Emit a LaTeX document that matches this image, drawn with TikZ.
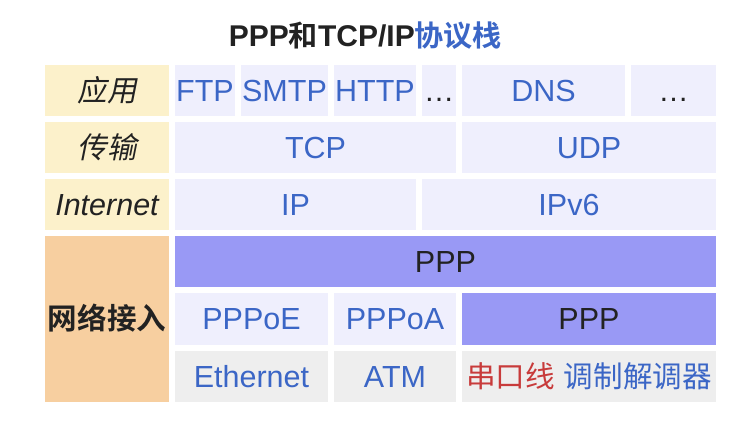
\documentclass[tikz,border=0pt]{standalone}
\usepackage{fontspec}
\setmainfont{Liberation Sans}
\newfontfamily\cjk{Noto Sans CJK SC}[Scale=0.97,BoldFont={Noto Sans CJK SC Bold}]
\newfontfamily\cjkit{Noto Sans CJK SC}[Scale=0.97,FakeSlant=0.2]
\definecolor{labyellow}{HTML}{FCF1CB}
\definecolor{laborange}{HTML}{F7CFA0}
\definecolor{lav}{HTML}{EFEFFD}
\definecolor{pppfill}{HTML}{9999F5}
\definecolor{grayfill}{HTML}{EEEEEE}
\definecolor{txtblue}{HTML}{3B66C6}
\definecolor{txtred}{HTML}{C83B3B}
\definecolor{txtdark}{HTML}{222222}
\tikzset{
  cell/.style={anchor=north west, inner sep=0pt, outer sep=0pt, draw=none,
    text height=21.8pt, text depth=0pt, align=center,
    font=\fontsize{30.5}{36}\selectfont},
  labcell/.style={cell, fill=labyellow, text=txtdark},
  proto/.style={cell, fill=lav, text=txtblue},
  pppcell/.style={cell, fill=pppfill, text=txtdark},
  phys/.style={cell, fill=grayfill, text=txtblue},
}
\begin{document}
\begin{tikzpicture}[x=1pt,y=-1pt]
\useasboundingbox (0,0) rectangle (748,432);
% title
\node[font=\fontsize{30}{36}\selectfont\bfseries, text=txtdark, text height=21.5pt, text depth=0pt, inner sep=0pt] (title) at (365.5,36)
  {PPP{\cjk 和}TCP/IP{\cjk\color{txtblue}协议栈}};
% layer labels
\node[labcell, minimum width=124pt, minimum height=51pt] (lab1) at (45,65) {\cjkit 应用};
\node[labcell, minimum width=124pt, minimum height=51pt] (lab2) at (45,122) {\cjkit 传输};
\node[labcell, minimum width=124pt, minimum height=51pt] (lab3) at (45,179) {\itshape Internet};
\node[labcell, fill=laborange, minimum width=124pt, minimum height=166pt] (lab4) at (45,236) {\cjk\bfseries 网络接入};
% application row
\node[proto, minimum width=60pt, minimum height=51pt] (ftp) at (175,65) {FTP};
\node[proto, minimum width=87pt, minimum height=51pt] (smtp) at (241,65) {SMTP};
\node[proto, minimum width=82pt, minimum height=51pt] (http) at (334,65) {HTTP};
\node[proto, text=txtdark, minimum width=34pt, minimum height=51pt] (dots1) at (422,65) {…};
\node[proto, minimum width=163pt, minimum height=51pt] (dns) at (462,65) {DNS};
\node[proto, text=txtdark, minimum width=85pt, minimum height=51pt] (dots2) at (631,65) {…};
% transport row
\node[proto, minimum width=281pt, minimum height=51pt] (tcp) at (175,122) {TCP};
\node[proto, minimum width=254pt, minimum height=51pt] (udp) at (462,122) {UDP};
% internet row
\node[proto, minimum width=241pt, minimum height=51pt] (ip) at (175,179) {IP};
\node[proto, minimum width=294pt, minimum height=51pt] (ipv6) at (422,179) {IPv6};
% network access
\node[pppcell, minimum width=541pt, minimum height=51pt] (ppp1) at (175,236) {PPP};
\node[proto, minimum width=153pt, minimum height=52pt] (pppoe) at (175,293) {PPPoE};
\node[proto, minimum width=122pt, minimum height=52pt] (pppoa) at (334,293) {PPPoA};
\node[pppcell, minimum width=254pt, minimum height=52pt] (ppp2) at (462,293) {PPP};
\node[phys, minimum width=153pt, minimum height=51pt] (eth) at (175,351) {Ethernet};
\node[phys, minimum width=122pt, minimum height=51pt] (atm) at (334,351) {ATM};
\node[phys, minimum width=254pt, minimum height=51pt] (serial) at (462,351) {{\cjk\color{txtred}串口线}\hspace{0.3em}{\cjk 调制解调器}};
\end{tikzpicture}
\end{document}
